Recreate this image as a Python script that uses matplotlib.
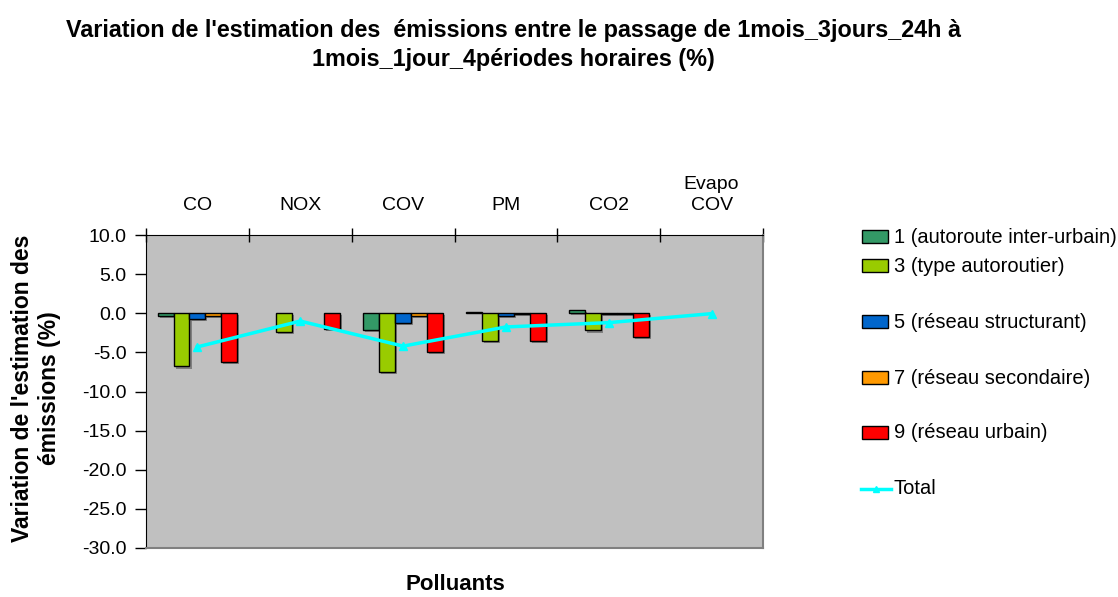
import numpy as np
import matplotlib
matplotlib.use("Agg")
import matplotlib.pyplot as plt
import matplotlib.patheffects as pe
from matplotlib.patches import Rectangle
from matplotlib.lines import Line2D

plt.rcParams['font.family'] = ['Liberation Sans', 'DejaVu Sans']

# --- Données ---
polluants = ["CO", "NOX", "COV", "PM", "CO2", "Evapo\nCOV"]
series_noms = ["1 (autoroute inter-urbain)", "3 (type autoroutier)",
               "5 (réseau structurant)", "7 (réseau secondaire)",
               "9 (réseau urbain)"]
s1 = [-0.3, 0.0, -2.1, 0.1, 0.4, 0.0]
s3 = [-6.8, -2.4, -7.5, -3.5, -2.2, 0.0]
s5 = [-0.7, 0.0, -1.2, -0.3, -0.1, 0.0]
s7 = [-0.3, 0.0, -0.4, -0.1, -0.1, 0.0]
s9 = [-6.2, -2.0, -5.0, -3.5, -3.0, 0.0]
total = [-4.3, -1.0, -4.2, -1.75, -1.2, -0.05]

couleurs = ["#339966", "#99CC00", "#0066CC", "#FF9900", "#FF0000"]

fig = plt.figure(figsize=(11.18, 5.97), dpi=100)
ax = fig.add_axes([146/1118, 1-548/597, (763-146)/1118, (548-235)/597])
ax.set_facecolor("#C0C0C0")

x = np.arange(len(polluants))
w = 0.155
ombre = [pe.SimplePatchShadow(offset=(1.5, -1.5), shadow_rgbFace="#555555", alpha=0.6), pe.Normal()]
for k, vals in enumerate([s1, s3, s5, s7, s9]):
    xs = x + (k - 2) * w
    for xi, v in zip(xs, vals):
        if v == 0:
            continue
        ax.bar(xi, v, width=w, color=couleurs[k], edgecolor="black", linewidth=1,
               path_effects=ombre, zorder=2)

ax.plot(x, total, color="#00FFFF", linewidth=2.5, marker="^", markersize=6, zorder=3)

ax.set_xlim(-0.5, len(polluants) - 0.5)
ax.set_ylim(-30, 10)
ax.set_yticks(np.arange(-30, 10.1, 5))
ax.set_yticklabels([f"{v:.1f}" for v in np.arange(-30, 10.1, 5)], fontsize=14)
ax.tick_params(axis="y", direction="out", length=8, width=1, pad=6)

ax.xaxis.tick_top()
ax.set_xticks(x)
ax.set_xticklabels(polluants, fontsize=14, linespacing=1.3)
ax.set_xticks(np.arange(-0.5, len(polluants)), minor=True)
ax.tick_params(axis="x", which="major", length=0, pad=15)
ax.tick_params(axis="x", which="minor", direction="inout", length=10, width=1, top=True, bottom=False)

for s in ["left", "top"]:
    ax.spines[s].set_color("black")
for s in ["right", "bottom"]:
    ax.spines[s].set_color("#808080")
    ax.spines[s].set_linewidth(1.5)

fig.text(36/1118, 1-388/597, "Variation de l'estimation des\némissions (%)", fontsize=16.5,
         fontweight="bold", rotation=90, ha="center", va="center", linespacing=1.2)
fig.text(455/1118, 1-584/597, "Polluants", fontsize=16, fontweight="bold",
         ha="center", va="center")

fig.text(513/1118, 1-45/597,
         "Variation de l'estimation des  émissions entre le passage de 1mois_3jours_24h à\n"
         "1mois_1jour_4périodes horaires (%)",
         fontsize=16.8, fontweight="bold", ha="center", va="center", linespacing=1.35)

# --- Légende ---
pos_y = [237, 266, 322, 378, 433]
for nom, c, yy in zip(series_noms, couleurs, pos_y):
    fig.add_artist(Rectangle((862/1118, 1-(yy+6)/597), 26/1118, 13/597,
                             facecolor=c, edgecolor="black", linewidth=1,
                             transform=fig.transFigure))
    fig.text(894/1118, 1-yy/597, nom, fontsize=14.5, va="center", ha="left")
fig.add_artist(Line2D([861/1118, 891/1118], [1-489/597, 1-489/597], color="#00FFFF",
                      linewidth=2.5, transform=fig.transFigure))
fig.add_artist(Line2D([876/1118], [1-489/597], color="#00FFFF", marker="^",
                      markersize=5, transform=fig.transFigure))
fig.text(894/1118, 1-489/597, "Total", fontsize=14.5, va="center", ha="left")

fig.savefig("out.png", dpi=100)
